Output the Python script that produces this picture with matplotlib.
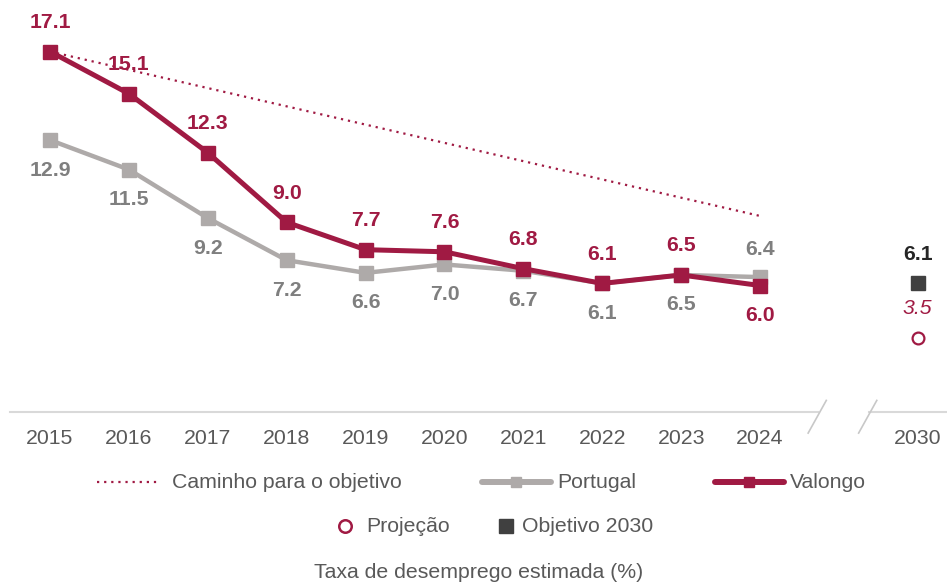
import matplotlib
matplotlib.use("Agg")
import matplotlib.pyplot as plt
from matplotlib.lines import Line2D

plt.rcParams['font.family'] = ['Liberation Sans', 'DejaVu Sans']

years = ["2015", "2016", "2017", "2018", "2019", "2020", "2021", "2022", "2023", "2024"]
target_year = "2030"
portugal = [12.9, 11.5, 9.2, 7.2, 6.6, 7.0, 6.7, 6.1, 6.5, 6.4]
valongo = [17.1, 15.1, 12.3, 9.0, 7.7, 7.6, 6.8, 6.1, 6.5, 6.0]
path_years = ["2015", "2024"]
path_values = [17.1, 9.3]
target_2030 = 6.1
projection_2030 = 3.5

RED = "#A01A43"
GREY = "#AEAAA9"
GREY_TXT = "#7F7F7F"
TXT = "#595959"
DARK = "#404040"

W, H = 947, 588
fig = plt.figure(figsize=(W / 100, H / 100), dpi=100)
ax = fig.add_axes([10 / W, (H - 412) / H, (W - 10) / W, 412 / H])

xpos = {y: i for i, y in enumerate(years)}
xpos[target_year] = 11
xs = [xpos[y] for y in years]

ax.set_xlim(-0.507, 11.37)
ax.set_ylim(0, 412 / 21.08)

dotted = (0, (1, 2.2))
ax.plot([xpos[y] for y in path_years], path_values, color=RED, lw=1.6,
        linestyle=dotted, zorder=2)
ax.plot(xs, portugal, color=GREY, lw=3.2, marker="s", markersize=9.5, zorder=3)
ax.plot(xs, valongo, color=RED, lw=3.6, marker="s", markersize=10, zorder=4)

ax.plot([xpos[target_year]], [target_2030], marker="s", color=DARK,
        markersize=9.5, linestyle="none", zorder=5)
ax.plot([xpos[target_year]], [projection_2030], marker="o", markerfacecolor="white",
        markeredgecolor=RED, markeredgewidth=1.6, markersize=8.5, linestyle="none", zorder=5)

fs = 15.3
for i, (p, v) in enumerate(zip(portugal, valongo)):
    last = i == len(years) - 1
    v_off = -30 if last else 29
    p_off = 28 if last else -30
    ax.annotate(f"{v:.1f}", (xs[i], v), xytext=(0, v_off), textcoords="offset pixels",
                ha="center", va="center", color=RED, fontsize=fs, fontweight="bold",
                annotation_clip=False)
    ax.annotate(f"{p:.1f}", (xs[i], p), xytext=(0, p_off), textcoords="offset pixels",
                ha="center", va="center", color=GREY_TXT, fontsize=fs, fontweight="bold",
                annotation_clip=False)

ax.annotate(f"{target_2030:.1f}", (xpos[target_year], target_2030), xytext=(0, 29),
            textcoords="offset pixels", ha="center", va="center", color="#262626",
            fontsize=fs, fontweight="bold", annotation_clip=False)
ax.annotate(f"{projection_2030:.1f}", (xpos[target_year], projection_2030), xytext=(0, 30),
            textcoords="offset pixels", ha="center", va="center", color=RED,
            fontsize=fs, fontstyle="italic", annotation_clip=False)

# axis
for s in ax.spines.values():
    s.set_visible(False)
ax.set_yticks([])
ax.set_xticks([xpos[y] for y in years + [target_year]])
ax.set_xticklabels(years + [target_year], fontsize=fs, color=TXT)
ax.tick_params(axis="x", length=0, pad=12)
span = 11.37 + 0.507
ax.axhline(0, xmin=0, xmax=(9.74 + 0.507) / span, color="#D9D9D9", lw=1.5, clip_on=False)
ax.axhline(0, xmin=(10.38 + 0.507) / span, xmax=1, color="#D9D9D9", lw=1.5, clip_on=False)
for xb in (9.74, 10.38):
    ax.plot([xb + 0.1, xb - 0.13], [0.55, -1.0], color="#C8C8C8", lw=1.2, clip_on=False)

# manual legend (figure pixel coordinates)
def fx(px):
    return px / W

def fy(py):
    return 1 - py / H

def handle_line(x0, x1, y, **kw):
    fig.add_artist(Line2D([fx(x0), fx(x1)], [fy(y), fy(y)], transform=fig.transFigure, **kw))

def handle_marker(x, y, **kw):
    fig.add_artist(Line2D([fx(x)], [fy(y)], transform=fig.transFigure, linestyle="none", **kw))

def label(x, y, s):
    fig.text(fx(x), fy(y), s, ha="left", va="center", fontsize=fs, color=TXT)

r1, r2 = 482, 526
handle_line(97, 160, r1, color=RED, lw=1.6, linestyle=dotted)
label(172, r1, "Caminho para o objetivo")
handle_line(482, 551, r1, color=GREY, lw=4.3, solid_capstyle="round")
handle_marker(516, r1, color=GREY, marker="s", markersize=7.5)
label(557, r1, "Portugal")
handle_line(715, 784, r1, color=RED, lw=4.3, solid_capstyle="round")
handle_marker(749, r1, color=RED, marker="s", markersize=7.5)
label(790, r1, "Valongo")

handle_marker(345, r2, marker="o", markerfacecolor="white", markeredgecolor=RED,
              markeredgewidth=1.8, markersize=9)
label(366, r2, "Projeção")
handle_marker(506, r2, marker="s", color=DARK, markersize=9.5)
label(522, r2, "Objetivo 2030")

fig.text(fx(479), fy(572), "Taxa de desemprego estimada (%)", ha="center", va="center",
         fontsize=fs, color=TXT)

fig.savefig("out.png", dpi=100)
